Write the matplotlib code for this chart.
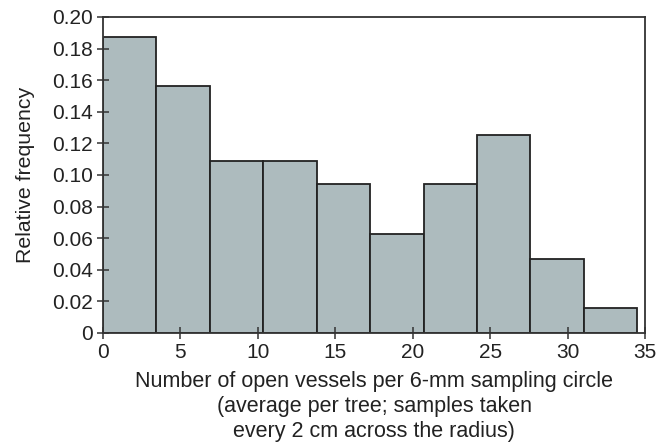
import numpy as np
import matplotlib
matplotlib.use("Agg")
import matplotlib.pyplot as plt

# relative frequency per bin (10 bins from 0 to ~34.5)
bin_edges = np.linspace(0, 34.5, 11)
rel_freq = [0.1875, 0.156, 0.109, 0.109, 0.094, 0.0625, 0.094, 0.125, 0.047, 0.0156]

x_ticks = [0, 5, 10, 15, 20, 25, 30, 35]
y_ticks = [0, 0.02, 0.04, 0.06, 0.08, 0.10, 0.12, 0.14, 0.16, 0.18, 0.20]
y_tick_labels = ["0", "0.02", "0.04", "0.06", "0.08", "0.10", "0.12", "0.14", "0.16", "0.18", "0.20"]

plt.rcParams["font.family"] = ["Liberation Sans", "DejaVu Sans"]

fig = plt.figure(figsize=(6.68, 4.46), dpi=100)
ax = fig.add_axes([0.1542, 0.2534, 0.8114, 0.7086])

centers = bin_edges[:-1]
widths = np.diff(bin_edges)
ax.bar(centers, rel_freq, width=widths, align="edge",
       color="#adbbbe", edgecolor="#222222", linewidth=1.3)

ax.set_xlim(0, 35)
ax.set_ylim(0, 0.20)
ax.set_xticks(x_ticks)
ax.set_yticks(y_ticks)
ax.set_yticklabels(y_tick_labels)

for s in ax.spines.values():
    s.set_linewidth(1.3)
    s.set_color("#333333")

ax.tick_params(axis="both", direction="inout", length=8, width=1.1,
               color="#333333", labelsize=15, labelcolor="#222222")

ax.set_ylabel("Relative frequency", fontsize=15.3, color="#222222", labelpad=12)
ax.set_xlabel("Number of open vessels per 6-mm sampling circle\n"
              "(average per tree; samples taken\n"
              "every 2 cm across the radius)",
              fontsize=15.5, color="#222222", linespacing=1.27, labelpad=6)

fig.savefig("out.png", dpi=100)
